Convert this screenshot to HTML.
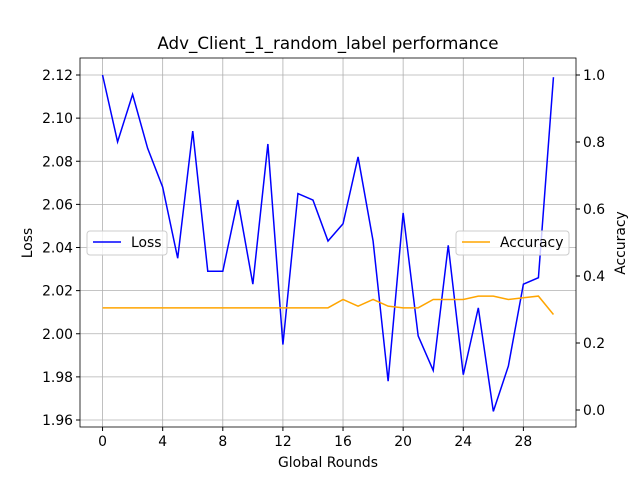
<!DOCTYPE html>
<html><head><meta charset="utf-8"><style>
body{margin:0;background:#fff;}
svg text{font-family:"DejaVu Sans","Liberation Sans",sans-serif;fill:#000;}
</style></head><body>
<svg id="chart" width="640" height="480" xmlns="http://www.w3.org/2000/svg">
<text x="328" y="49" font-size="16.7" text-anchor="middle">Adv_Client_1_random_label performance</text>
<g id="grid"></g><g id="series"></g><g id="axes"></g>
<text x="328" y="467" font-size="13.9" text-anchor="middle">Global Rounds</text>
<text x="32" y="243" font-size="13.9" text-anchor="middle" transform="rotate(-90 32 243)">Loss</text>
<text x="625" y="243" font-size="13.9" text-anchor="middle" transform="rotate(-90 625 243)">Accuracy</text>
<g>
<rect x="87" y="231" width="80" height="24" rx="3" fill="#fff" fill-opacity="0.8" stroke="#ccc"/>
<line x1="93" y1="242" x2="121" y2="242" stroke="#0000ff" stroke-width="1.5"/>
<text x="131" y="247" font-size="13.9">Loss</text></g>
<g>
<rect x="456" y="231" width="113" height="24" rx="3" fill="#fff" fill-opacity="0.8" stroke="#ccc"/>
<line x1="462" y1="242" x2="490" y2="242" stroke="#ffa500" stroke-width="1.5"/>
<text x="500" y="247" font-size="13.9">Accuracy</text></g>
</svg>
<script>
const rounds=[0,1,2,3,4,5,6,7,8,9,10,11,12,13,14,15,16,17,18,19,20,21,22,23,24,25,26,27,28,29,30];
const lossValues=[2.12,2.089,2.111,2.086,2.068,2.035,2.094,2.029,2.029,2.062,2.023,2.088,1.995,2.065,2.062,2.043,2.051,2.082,2.043,1.978,2.056,1.999,1.983,2.041,1.981,2.012,1.964,1.985,2.023,2.026,2.119];
const accuracyValues=[0.305,0.305,0.305,0.305,0.305,0.305,0.305,0.305,0.305,0.305,0.305,0.305,0.305,0.305,0.305,0.305,0.33,0.31,0.33,0.31,0.305,0.305,0.33,0.33,0.33,0.34,0.34,0.33,0.335,0.34,0.285];
const xTicks=[0,4,8,12,16,20,24,28];
const lossTicks=[1.96,1.98,2.00,2.02,2.04,2.06,2.08,2.10,2.12];
const accTicks=[0.0,0.2,0.4,0.6,0.8,1.0];
const L=80,R=576,T=58,B=427;
const xs=v=>L+(v+1.5)*(R-L)/33;
const yl=v=>75+(2.12-v)*(420-75)/0.16;
const ya=v=>410-v*335;
const NS="http://www.w3.org/2000/svg";
function mk(p,t,a){const e=document.createElementNS(NS,t);for(const k in a)e.setAttribute(k,a[k]);document.getElementById(p).appendChild(e);return e;}
xTicks.forEach(t=>{const x=xs(t);
const g=mk('grid','line',{x1:x,x2:x,y1:T,y2:B,stroke:'#b0b0b0','stroke-width':0.8});


mk('axes','line',{x1:x,x2:x,y1:B,y2:B+4,stroke:'#000'});
const tx=mk('axes','text',{x:x,y:B+19,'font-size':13.9,'text-anchor':'middle'});tx.textContent=t;

});
lossTicks.forEach(t=>{const y=yl(t);
const g=mk('grid','line',{x1:L,x2:R,y1:y,y2:y,stroke:'#b0b0b0','stroke-width':0.8});


mk('axes','line',{x1:L-4,x2:L,y1:y,y2:y,stroke:'#000'});
const tx=mk('axes','text',{x:L-7,y:y+5,'font-size':13.9,'text-anchor':'end'});tx.textContent=t.toFixed(2);

});
accTicks.forEach(t=>{const y=ya(t);
mk('axes','line',{x1:R,x2:R+4,y1:y,y2:y,stroke:'#000'});
const tx=mk('axes','text',{x:R+7,y:y+5,'font-size':13.9});tx.textContent=t.toFixed(1);

});
const lp=mk('series','polyline',{points:rounds.map((r,i)=>xs(r)+','+yl(lossValues[i])).join(' '),fill:'none',stroke:'#0000ff','stroke-width':1.5});


const ap=mk('series','polyline',{points:rounds.map((r,i)=>xs(r)+','+ya(accuracyValues[i])).join(' '),fill:'none',stroke:'#ffa500','stroke-width':1.5});


const fr=mk('axes','rect',{x:L,y:T,width:R-L,height:B-T,fill:'none',stroke:'#000','stroke-width':0.8});


</script>
</body></html>
